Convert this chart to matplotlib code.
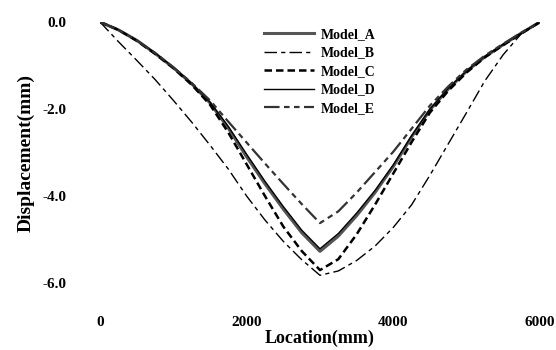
import matplotlib.pyplot as plt

# deflection along the span, mm
location = [0, 250, 500, 750, 1000, 1250, 1500, 1750, 2000, 2250, 2500, 2750, 3000,
            3250, 3500, 3750, 4000, 4250, 4500, 4750, 5000, 5250, 5500, 5750, 6000]

model_a = [0.0, -0.18, -0.42, -0.72, -1.05, -1.42, -1.86, -2.44, -3.10, -3.72, -4.30, -4.84, -5.27,
           -4.92, -4.45, -3.92, -3.32, -2.64, -2.02, -1.54, -1.13, -0.80, -0.52, -0.25, 0.0]
model_b = [0.0, -0.45, -0.88, -1.32, -1.80, -2.30, -2.83, -3.38, -4.00, -4.55, -5.04, -5.46, -5.82,
           -5.72, -5.48, -5.15, -4.72, -4.20, -3.52, -2.80, -2.08, -1.35, -0.75, -0.26, 0.0]
model_c = [0.0, -0.18, -0.43, -0.73, -1.06, -1.44, -1.90, -2.54, -3.27, -4.00, -4.70, -5.26, -5.70,
           -5.45, -4.88, -4.20, -3.48, -2.76, -2.08, -1.58, -1.16, -0.81, -0.53, -0.26, 0.0]
model_d = [0.0, -0.18, -0.42, -0.71, -1.04, -1.41, -1.84, -2.40, -3.04, -3.66, -4.24, -4.78, -5.21,
           -4.86, -4.39, -3.87, -3.28, -2.61, -2.00, -1.52, -1.12, -0.79, -0.51, -0.25, 0.0]
model_e = [0.0, -0.18, -0.42, -0.71, -1.04, -1.40, -1.80, -2.29, -2.77, -3.25, -3.72, -4.18, -4.62,
           -4.35, -3.92, -3.45, -2.98, -2.45, -1.92, -1.48, -1.09, -0.77, -0.50, -0.24, 0.0]

x_ticks = [0, 2000, 4000, 6000]
y_ticks = [0.0, -2.0, -4.0, -6.0]

plt.rcParams['font.family'] = ['Liberation Serif', 'DejaVu Serif']
plt.rcParams['font.weight'] = 'bold'

fig = plt.figure(figsize=(5.56, 3.5), dpi=100)
ax = fig.add_axes([0.18, 0.191, 0.791, 0.746])

ax.plot(location, model_a, color='#555555', lw=2.2, label='Model_A')
ax.plot(location, model_b, color='black', lw=1.0, dashes=(9, 3, 3, 3), label='Model_B')
ax.plot(location, model_c, color='black', lw=1.8, dashes=(3, 1.6), label='Model_C')
ax.plot(location, model_d, color='black', lw=1.0, label='Model_D')
ax.plot(location, model_e, color='#333333', lw=1.6, dashes=(7, 2, 2.5, 2, 2.5, 2), label='Model_E')

ax.set_xlim(0, 6000)
ax.set_ylim(-6.0, 0.0)
ax.set_xticks(x_ticks)
ax.set_xticklabels([str(v) for v in x_ticks])
ax.set_yticks(y_ticks)
ax.set_yticklabels(['0.0', '-2.0', '-4.0', '-6.0'])
ax.tick_params(axis='x', length=0, pad=24, labelsize=11)
ax.tick_params(axis='y', length=0, pad=24, labelsize=11)
for side in ax.spines.values():
    side.set_visible(False)

ax.set_xlabel('Location(mm)', fontsize=13, fontweight='bold', labelpad=0)
ax.set_ylabel('Displacement(mm)', fontsize=14, fontweight='bold', labelpad=6)

ax.legend(loc='upper left', bbox_to_anchor=(0.462, 0.94), bbox_transform=fig.transFigure,
          frameon=False, handlelength=3.6, handletextpad=0.5,
          labelspacing=0.4, borderpad=0, prop={'weight': 'bold', 'size': 10})

fig.savefig('out.png', dpi=100)
